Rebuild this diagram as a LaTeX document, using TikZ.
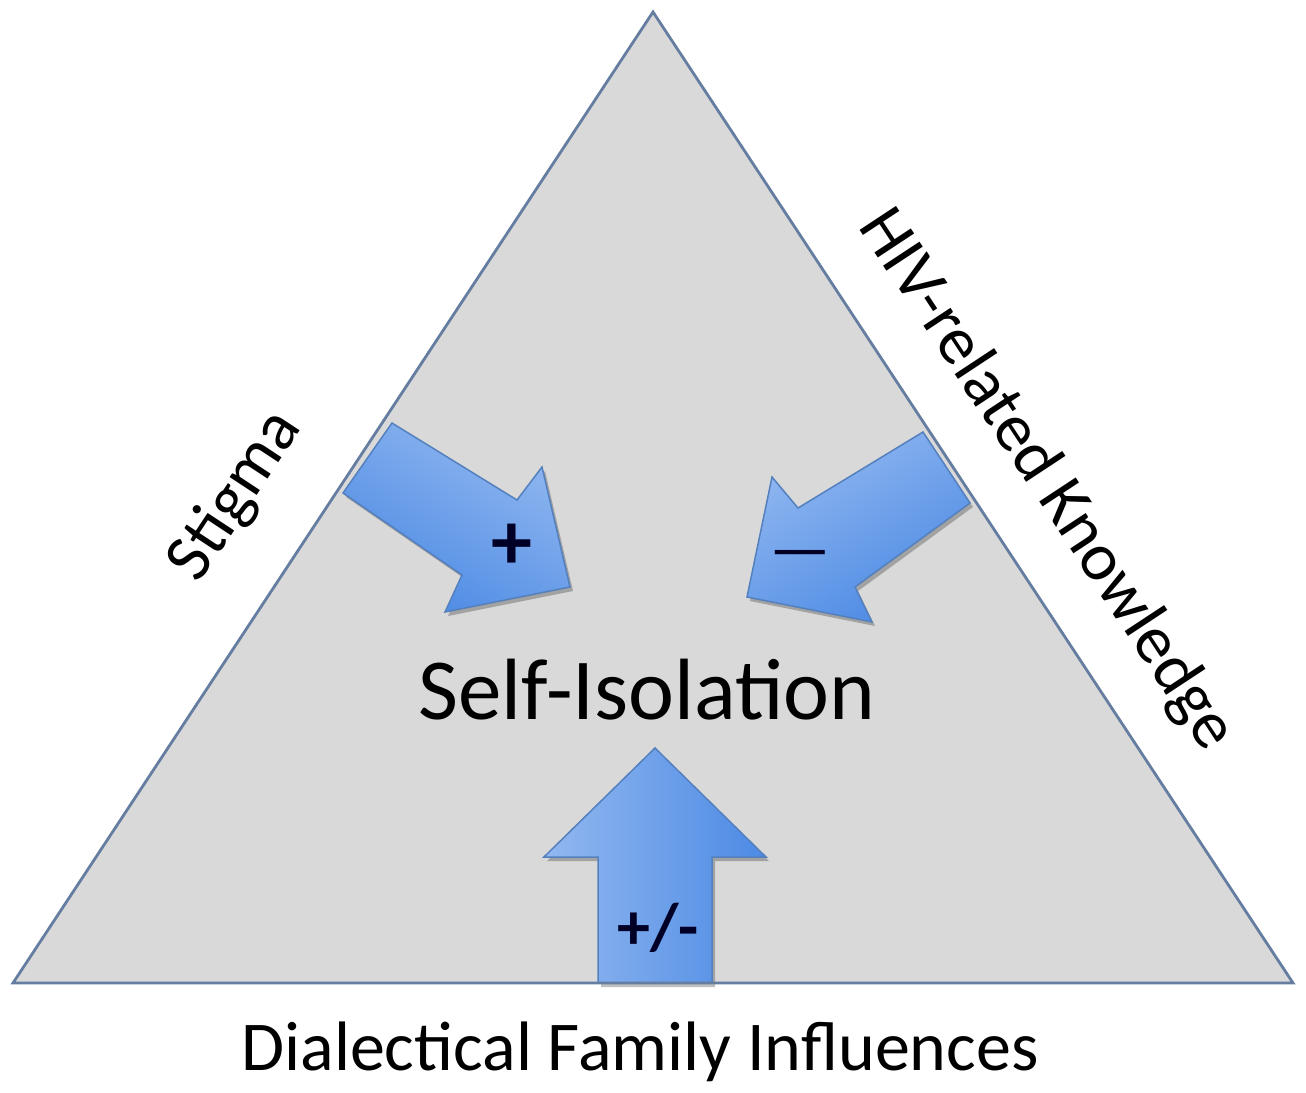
\documentclass[tikz,border=0pt]{standalone}
\usepackage{fontspec}
\setmainfont{Carlito}
\usetikzlibrary{shadows}
\definecolor{trifill}{RGB}{217,217,217}
\definecolor{triline}{RGB}{100,125,160}
\definecolor{arrlight}{RGB}{146,184,240}
\definecolor{arrdark}{RGB}{76,138,228}
\definecolor{arrline}{RGB}{84,128,190}
\tikzset{
  bigarrow/.style={draw=arrline, line width=1.5pt, line join=miter,
    drop shadow={shadow xshift=3pt, shadow yshift=-4pt, opacity=0.25, fill=black}},
  sidelabel/.style={inner sep=0pt, font=\fontsize{68}{80}\selectfont},
  signlabel/.style={inner sep=0pt, font=\fontsize{66}{80}\selectfont\bfseries, text=black!85!blue},
}
\begin{document}
\begin{tikzpicture}[x=1pt, y=-1pt]
\useasboundingbox (0,0) rectangle (1306,1092);
\fill[white] (0,0) rectangle (1306,1092);
% triangle
\coordinate (apex) at (653,12);
\coordinate (bl) at (13,983);
\coordinate (br) at (1293,983);
\fill[trifill] (apex) -- (br) -- (bl) -- cycle;
% arrows
\shade[bigarrow, top color=arrlight, bottom color=arrdark, shading angle=-30]
  (392,423) -- (517,500) -- (542,467) -- (570,587) -- (445,612) -- (462,575) -- (343,493) -- cycle;
\shade[bigarrow, top color=arrlight, bottom color=arrdark, shading angle=30]
  (923,432) -- (970,503) -- (855,587) -- (872,622) -- (747,597) -- (772,477) -- (798,508) -- cycle;
\shade[bigarrow, left color=arrlight, right color=arrdark]
  (655,748) -- (766,857) -- (712,857) -- (712,983) -- (598,983) -- (598,857) -- (544,857) -- cycle;
% triangle border
\draw[triline, line width=2.8pt, line join=miter] (apex) -- (br) -- (bl) -- cycle;
% texts
\node[inner sep=0pt, font=\fontsize{87}{100}\selectfont] (center) at (647,690) {Self-Isolation};
\node[sidelabel, font=\fontsize{70}{84}\selectfont] (family) at (640,1052) {Dialectical Family Influences};
\node[sidelabel, rotate=56.6] (stigma) at (236,496) {Stigma};
\node[sidelabel, rotate=-56.6] (hiv) at (1046,480) {HIV-related Knowledge};
\node[signlabel, font=\fontsize{82}{90}\selectfont\bfseries] (plus) at (512,547) {+};
\node[signlabel, font=\fontsize{68}{80}\selectfont] (minus) at (800,561) {—};
\node[signlabel] (pm) at (658,928) {+/-};
\end{tikzpicture}
\end{document}
